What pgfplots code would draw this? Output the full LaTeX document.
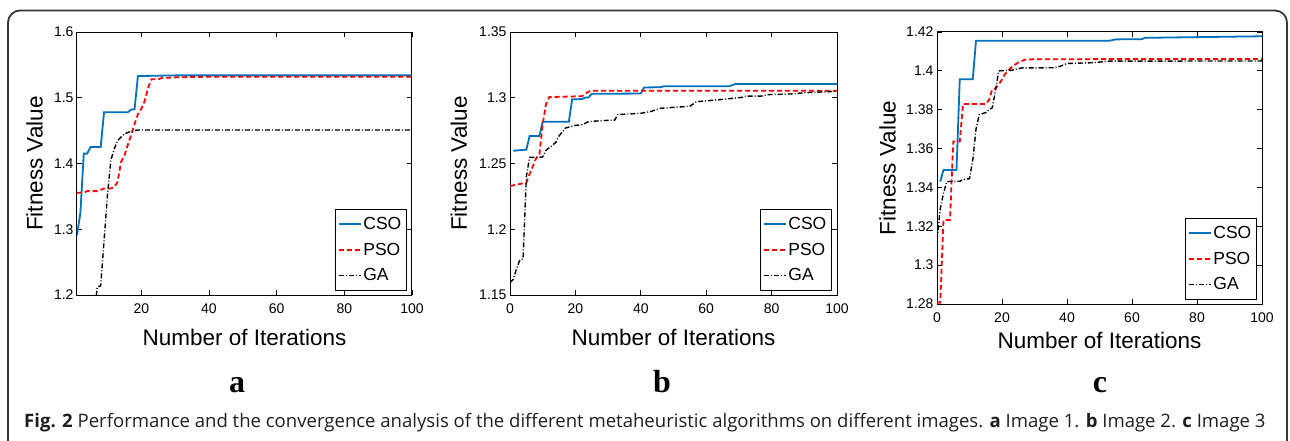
\documentclass[border=0pt]{standalone}
\usepackage{fontspec}
\setmainfont{Liberation Sans}
\newfontfamily\capfont{Open Sans}
\newfontfamily\letterfont{Liberation Serif}
\usepackage{pgfplots}
\pgfplotsset{compat=1.18}
\definecolor{msblue}{RGB}{0,114,189}
\definecolor{framegray}{RGB}{55,55,55}

\pgfplotsset{
  legend image code/.code={\draw[#1] (0pt,0pt) -- (22pt,0pt);},
  fitstyle/.style={
    scale only axis,
    anchor=south west,
    axis line style={line width=1pt},
    every tick/.style={black, line width=0.9pt},
    tick align=inside, xtick pos=both, ytick pos=both,
    major tick length=5pt,
    /pgf/number format/assume math mode=true,
    tick label style={font=\fontsize{14pt}{16pt}\selectfont},
    xticklabel style={yshift=-5pt},
    label style={font=\fontsize{22.5pt}{26pt}\selectfont, inner sep=0pt},
    xlabel={Number of Iterations},
    ylabel={Fitness Value},
    xmax=100,
    xtick={0,20,40,60,80,100},
    legend cell align=left,
    legend style={at={(1,0)}, anchor=south east, xshift=-6pt, yshift=5pt,
      font=\fontsize{17.5pt}{20pt}\selectfont, draw=black,
      inner xsep=3pt, inner ysep=1.5pt,
      nodes={inner xsep=1.5pt, inner ysep=6pt}},
  },
  cso/.style={msblue, line width=1.8pt},
  pso/.style={red, line width=1.8pt, dash pattern=on 5pt off 3pt},
  ga/.style={black, line width=1.4pt, dash pattern=on 5pt off 2pt on 1pt off 2pt},
}

\begin{document}
\begin{tikzpicture}
\useasboundingbox (0,0) rectangle (1290pt,440pt);
\draw[framegray, line width=1.8pt, rounded corners=12pt]
  (8pt,-20pt) -- (8pt,429.5pt) -- (1287pt,429.5pt) -- (1287pt,-20pt);

% panel a
\begin{axis}[fitstyle, at={(77pt,145pt)}, width=335pt, height=263pt,
  xmin=1, ymin=1.2, ymax=1.6, ytick={1.2,1.3,1.4,1.5,1.6},
  xlabel style={at={(axis description cs:0.5,-0.1939)}, anchor=base},
  ylabel style={at={(axis description cs:-0.1015,0.5)}, anchor=south}]
\addplot[cso] coordinates {(1,1.291) (2,1.325) (3,1.415) (4,1.415) (5,1.425) (8,1.425)
  (9,1.478) (16,1.478) (17,1.482) (18,1.482) (19,1.533) (30,1.534) (100,1.534)};
\addlegendentry{CSO}
\addplot[pso] coordinates {(1,1.3556) (3,1.3556) (4,1.358) (7,1.358) (8,1.360) (9,1.362)
  (11,1.362) (12,1.364) (13,1.372) (14,1.402) (15,1.412) (16,1.428) (17,1.443)
  (18,1.460) (19,1.475) (20,1.483) (21,1.495) (22,1.515) (23,1.528) (25,1.528)
  (26,1.530) (30,1.531) (40,1.532) (100,1.532)};
\addlegendentry{PSO}
\addplot[ga] coordinates {(1,1.05) (3,1.08) (5,1.12) (6,1.17) (7,1.212) (8,1.214)
  (9,1.283) (10,1.352) (11,1.405) (12,1.422) (13,1.435) (14,1.440) (15,1.445)
  (16,1.447) (17,1.449) (18,1.450) (19,1.451) (100,1.451)};
\addlegendentry{GA}
\end{axis}

% panel b
\begin{axis}[fitstyle, at={(510pt,145pt)}, width=327pt, height=263pt,
  xmin=0, ymin=1.15, ymax=1.35, ytick={1.15,1.2,1.25,1.3,1.35},
  xlabel style={at={(axis description cs:0.5,-0.1939)}, anchor=base},
  ylabel style={at={(axis description cs:-0.1306,0.5)}, anchor=south}]
\addplot[cso] coordinates {(1,1.2597) (5,1.2605) (6,1.2709) (9,1.2709) (10,1.2818)
  (18,1.2818) (19,1.2988) (22,1.2990) (23,1.3001) (24,1.3003) (25,1.3030) (40,1.3032)
  (41,1.3078) (46,1.3080) (47,1.3087) (67,1.3087) (69,1.3105) (100,1.3105)};
\addlegendentry{CSO}
\addplot[pso] coordinates {(0,1.2329) (5,1.2354) (6,1.2420) (7,1.2480) (8,1.2540)
  (9,1.2570) (10,1.2800) (11,1.2950) (12,1.3005) (22,1.3012) (24,1.3046) (25,1.3054)
  (100,1.3054)};
\addlegendentry{PSO}
\addplot[ga] coordinates {(0,1.1594) (1,1.1620) (2,1.1700) (3,1.1766) (4,1.1775)
  (5,1.2400) (6,1.2547) (9,1.2547) (10,1.2550) (11,1.2600) (13,1.2640) (14,1.2660)
  (15,1.2710) (16,1.2740) (17,1.2770) (20,1.2790) (22,1.2795) (24,1.2818) (28,1.2826)
  (32,1.2830) (33,1.2872) (40,1.2882) (43,1.2895) (46,1.2920) (55,1.2935) (57,1.2970)
  (64,1.2985) (67,1.2993) (71,1.3003) (72,1.3012) (77,1.3013) (79,1.3024) (86,1.3029)
  (90,1.3038) (98,1.3047) (100,1.3050)};
\addlegendentry{GA}
\end{axis}

% panel c
\begin{axis}[fitstyle, at={(937pt,136pt)}, width=325pt, height=272pt,
  xmin=0, ymin=1.28, ymax=1.42, ytick={1.28,1.3,1.32,1.34,1.36,1.38,1.4,1.42},
  xlabel style={at={(axis description cs:0.5,-0.1618)}, anchor=base},
  ylabel style={at={(axis description cs:-0.126,0.5)}, anchor=south}]
\addplot[cso] coordinates {(1,1.343) (2,1.349) (6,1.349) (7,1.3957) (11,1.3957)
  (12,1.4155) (53,1.4155) (55,1.4162) (63,1.4163) (64,1.4170) (100,1.4178)};
\addlegendentry{CSO}
\addplot[pso] coordinates {(0,1.2807) (1,1.2807) (2,1.3232) (4,1.3232) (5,1.3636)
  (7,1.3636) (8,1.3829) (15,1.3829) (16,1.3850) (17,1.3905) (18,1.3910) (19,1.3930)
  (20,1.3955) (21,1.3985) (22,1.4003) (23,1.4020) (25,1.4043) (27,1.4057) (30,1.4060)
  (100,1.4061)};
\addlegendentry{PSO}
\addplot[ga] coordinates {(0,1.3129) (1,1.3290) (2,1.3370) (3,1.3430) (7,1.3432)
  (8,1.3440) (10,1.3445) (11,1.3540) (12,1.3700) (13,1.3775) (15,1.3785) (16,1.3800)
  (17,1.3810) (18,1.3900) (19,1.4000) (23,1.4003) (26,1.4015) (36,1.4016) (38,1.4024)
  (40,1.4038) (48,1.4042) (53,1.4050) (100,1.4051)};
\addlegendentry{GA}
\end{axis}

\node[anchor=base, inner sep=0pt, font=\letterfont\bfseries\fontsize{32pt}{36pt}\selectfont] at (237pt,47.7pt) {a};
\node[anchor=base, inner sep=0pt, font=\letterfont\bfseries\fontsize{32pt}{36pt}\selectfont] at (662pt,47.7pt) {b};
\node[anchor=base, inner sep=0pt, font=\letterfont\bfseries\fontsize{32pt}{36pt}\selectfont] at (1100pt,47.7pt) {c};
\node[anchor=base west, inner sep=0pt, text=black!88, font=\capfont\fontsize{18.55pt}{20pt}\selectfont] at (24pt,13pt)
  {\textbf{Fig. 2} Performance and the convergence analysis of the different metaheuristic algorithms on different images. \textbf{a} Image 1. \textbf{b} Image 2. \textbf{c} Image 3};
\end{tikzpicture}
\end{document}
